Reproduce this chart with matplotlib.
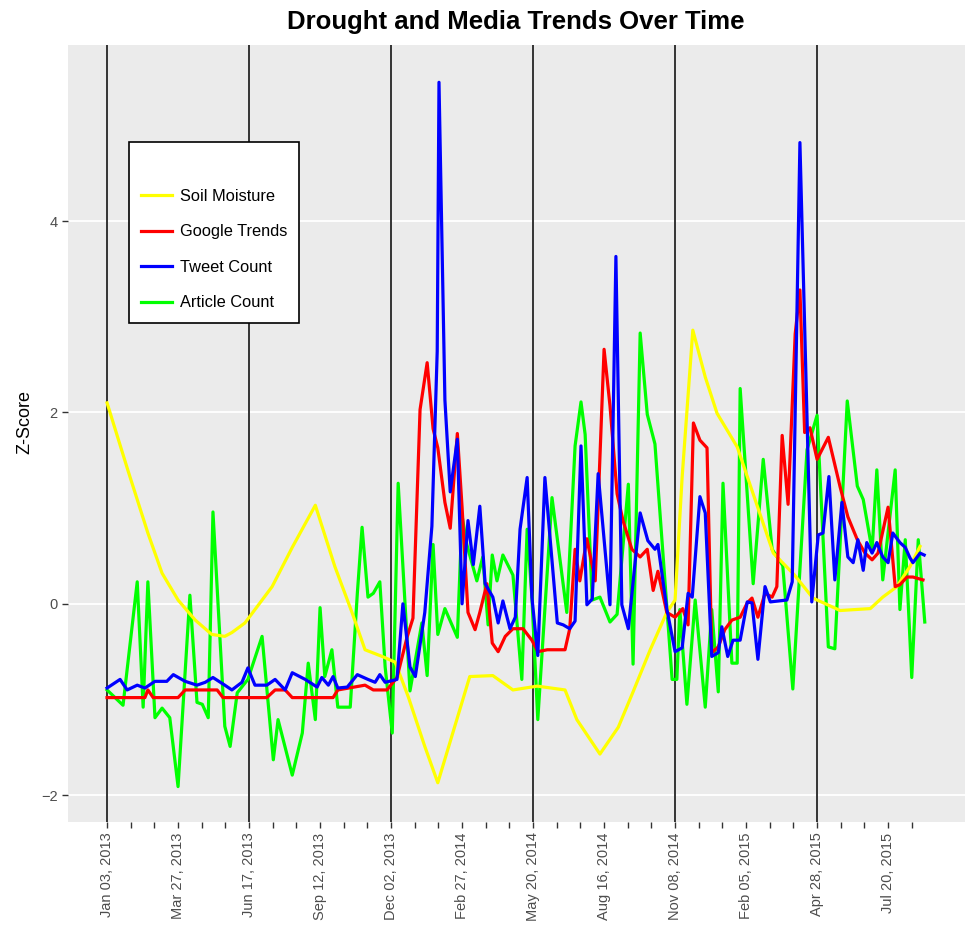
import matplotlib
matplotlib.use('Agg')
import matplotlib.pyplot as plt

# x positions are weeks counted from Jan 03, 2013
soil_wk = [0, 3.5, 6.9, 9.3, 12.0, 14.9, 17.7, 19.9, 21.1, 23.3, 27.9, 31.3, 35.2, 38.5, 41.4,
           43.6, 46.5, 48.7, 50.9, 53.7, 55.9, 61.3, 65.2, 68.6, 72.7, 77.4, 79.4, 83.3, 86.4,
           88.9, 91.8, 94.6, 96.0, 97.2, 99.0, 101.1, 103.1, 106.5, 110.4, 112.6, 116.2, 119.3,
           123.9, 126.4, 129.0, 131.1, 133.5, 135.7, 137.4]
soil_z = [2.10, 1.40, 0.74, 0.32, 0.04, -0.17, -0.32, -0.34, -0.30, -0.20, 0.18, 0.59, 1.03, 0.39,
          -0.09, -0.48, -0.55, -0.61, -0.97, -1.49, -1.87, -0.76, -0.75, -0.90, -0.86, -0.90, -1.21,
          -1.57, -1.29, -0.92, -0.48, -0.09, 0.04, 1.33, 2.86, 2.37, 1.99, 1.64, 0.93, 0.53, 0.30,
          0.06, -0.07, -0.06, -0.05, 0.07, 0.18, 0.39, 0.60]

google_wk = [0, 6.4, 6.9, 7.8, 12.0, 13.2, 18.6, 19.6, 27.0, 28.4, 30.1, 31.3, 38.2, 39.0, 43.6,
             45.0, 47.3, 49.0, 50.7, 51.7, 52.9, 54.1, 55.1, 55.9, 57.1, 58.0, 59.2, 60.0, 61.0,
             62.2, 63.0, 64.2, 65.1, 66.1, 67.3, 68.6, 70.3, 71.8, 72.8, 74.4, 77.4, 78.2, 79.1,
             79.9, 81.1, 82.5, 84.0, 85.0, 86.2, 87.2, 88.7, 90.1, 91.3, 92.3, 93.1, 94.6, 96.0,
             97.3, 98.2, 99.1, 100.2, 101.4, 102.2, 103.3, 104.4, 105.6, 107.0, 108.2, 109.0,
             110.0, 111.2, 112.4, 113.2, 114.1, 115.1, 116.3, 117.1, 117.9, 118.8, 120.0, 121.9,
             123.9, 125.2, 126.8, 128.1, 129.3, 130.3, 132.0, 133.2, 134.0, 135.2, 136.2, 137.9]
google_z = [-0.98, -0.98, -0.90, -0.98, -0.98, -0.90, -0.90, -0.98, -0.98, -0.90, -0.90, -0.98,
            -0.98, -0.90, -0.85, -0.90, -0.90, -0.77, -0.35, -0.15, 2.03, 2.52, 1.83, 1.63, 1.06,
            0.79, 1.78, 1.01, -0.09, -0.27, -0.09, 0.21, -0.41, -0.50, -0.34, -0.26, -0.26, -0.38,
            -0.50, -0.48, -0.48, -0.26, 0.57, 0.24, 0.68, 0.24, 2.66, 2.07, 1.15, 0.87, 0.57, 0.49,
            0.57, 0.14, 0.34, -0.09, -0.14, -0.05, -0.22, 1.89, 1.71, 1.63, -0.51, -0.45, -0.27,
            -0.17, -0.14, 0.01, 0.06, -0.14, 0.11, 0.07, 0.18, 1.76, 1.04, 2.82, 3.28, 1.79, 1.84,
            1.51, 1.74, 1.22, 0.91, 0.67, 0.53, 0.46, 0.53, 1.01, 0.18, 0.20, 0.28, 0.28, 0.25]

tweet_wk = [0, 2.2, 3.4, 5.1, 6.4, 8.1, 10.1, 11.2, 13.2, 15.2, 16.6, 17.9, 19.9, 21.1, 22.8,
            23.8, 25.0, 27.0, 28.4, 30.1, 31.3, 33.5, 35.5, 36.3, 37.4, 38.2, 39.0, 40.6, 42.3,
            44.1, 45.3, 46.1, 47.0, 49.0, 50.0, 51.2, 52.1, 53.7, 54.9, 55.8, 56.1, 57.1, 58.0,
            59.2, 60.0, 61.0, 61.9, 63.0, 63.9, 65.2, 66.1, 66.9, 68.1, 69.0, 69.8, 71.0, 71.8,
            72.8, 74.0, 76.1, 77.1, 78.2, 79.1, 80.1, 81.1, 82.0, 83.0, 85.0, 86.0, 87.0, 88.1,
            90.1, 91.4, 92.6, 93.1, 94.6, 96.0, 97.2, 98.2, 98.9, 100.2, 101.1, 102.2, 103.3,
            103.9, 104.9, 105.8, 107.0, 108.2, 109.0, 110.0, 111.2, 112.1, 114.9, 115.8, 117.1,
            119.1, 120.2, 121.0, 122.0, 123.0, 124.2, 125.2, 126.1, 126.9, 127.8, 128.4, 129.3,
            130.1, 131.1, 132.0, 132.8, 134.0, 134.9, 135.7, 136.2, 137.4, 138.1]
tweet_z = [-0.88, -0.79, -0.90, -0.85, -0.88, -0.81, -0.81, -0.74, -0.81, -0.85, -0.82, -0.77,
           -0.85, -0.90, -0.82, -0.67, -0.85, -0.85, -0.79, -0.90, -0.72, -0.79, -0.87, -0.77,
           -0.85, -0.76, -0.88, -0.87, -0.74, -0.79, -0.82, -0.74, -0.82, -0.79, 0.0, -0.66,
           -0.76, -0.09, 0.81, 2.64, 5.45, 2.13, 1.17, 1.72, 0.0, 0.87, 0.41, 1.02, 0.21, 0.07,
           -0.20, 0.03, -0.26, -0.14, 0.78, 1.32, 0.07, -0.54, 1.32, -0.20, -0.22, -0.26, -0.18,
           1.65, -0.01, 0.05, 1.36, -0.01, 3.63, -0.01, -0.26, 0.95, 0.66, 0.57, 0.62, -0.05,
           -0.50, -0.46, 0.11, 0.07, 1.12, 0.95, -0.55, -0.51, -0.24, -0.55, -0.38, -0.38, 0.02,
           0.01, -0.58, 0.18, 0.02, 0.04, 0.23, 4.82, 0.02, 0.72, 0.74, 1.33, 0.25, 1.06, 0.49,
           0.43, 0.67, 0.35, 0.64, 0.53, 0.64, 0.49, 0.43, 0.74, 0.64, 0.59, 0.48, 0.43, 0.53,
           0.51]

article_wk = [0, 2.7, 5.1, 6.1, 6.9, 8.1, 9.3, 10.6, 12.0, 14.0, 15.2, 16.1, 17.1, 17.9, 19.9,
              20.8, 22.0, 23.8, 26.2, 28.1, 28.9, 31.3, 33.0, 34.0, 35.2, 36.0, 36.8, 38.0, 39.0,
              41.1, 42.3, 43.1, 44.1, 45.0, 46.1, 47.0, 48.2, 49.2, 51.2, 53.2, 54.1, 55.1, 55.9,
              57.1, 59.2, 60.0, 60.8, 62.5, 63.5, 64.4, 65.1, 65.9, 66.9, 68.6, 70.1, 71.0, 71.8,
              72.8, 75.2, 77.7, 79.1, 80.1, 80.8, 82.0, 83.3, 85.0, 86.2, 88.1, 88.9, 90.1, 91.3,
              92.6, 95.5, 96.3, 96.8, 98.0, 99.4, 101.1, 102.2, 103.3, 104.1, 105.6, 106.5, 107.0,
              109.2, 110.9, 112.4, 114.2, 115.9, 118.3, 120.0, 121.9, 123.0, 125.1, 126.8, 127.8,
              129.3, 130.1, 131.1, 133.2, 134.0, 134.9, 136.0, 137.1, 138.2]
article_z = [-0.90, -1.06, 0.23, -1.08, 0.23, -1.19, -1.09, -1.19, -1.91, 0.09, -1.03, -1.05,
             -1.19, 0.96, -1.28, -1.49, -0.93, -0.79, -0.34, -1.63, -1.21, -1.79, -1.35, -0.62,
             -1.21, -0.04, -0.76, -0.48, -1.08, -1.08, 0.11, 0.80, 0.07, 0.11, 0.23, -0.66, -1.35,
             1.26, -0.91, -0.20, -0.75, 0.62, -0.32, -0.05, -0.35, 0.92, 0.62, 0.24, 0.49, -0.22,
             0.51, 0.24, 0.51, 0.30, -0.79, 0.78, 0.07, -1.21, 1.11, -0.09, 1.65, 2.11, 1.77, 0.04,
             0.07, -0.19, -0.11, 1.25, -0.63, 2.83, 1.98, 1.67, -0.79, -0.79, -0.06, -1.05, 0.04,
             -1.08, -0.06, -0.92, 1.26, -0.62, -0.62, 2.25, 0.21, 1.51, 0.57, 0.40, -0.89, 1.61,
             1.97, -0.45, -0.47, 2.12, 1.23, 1.09, 0.56, 1.40, 0.25, 1.40, -0.06, 0.67, -0.77,
             0.67, -0.19]

date_labels = ['Jan 03, 2013', 'Mar 27, 2013', 'Jun 17, 2013', 'Sep 12, 2013', 'Dec 02, 2013',
               'Feb 27, 2014', 'May 20, 2014', 'Aug 16, 2014', 'Nov 08, 2014', 'Feb 05, 2015',
               'Apr 28, 2015', 'Jul 20, 2015']
label_wk = list(range(0, 133, 12))
tick_wk = list(range(0, 137, 4))
marker_wk = [0, 24, 48, 72, 96, 120]

plt.rcParams['font.family'] = ['Liberation Sans', 'DejaVu Sans']

fig = plt.figure(figsize=(9.66, 9.41), dpi=100)
ax = fig.add_axes([68 / 966, 119 / 941, 897 / 966, 777 / 941])
ax.set_facecolor('#EBEBEB')
for s in ax.spines.values():
    s.set_visible(False)

ax.set_ylim(-2.28, 5.84)
ax.set_xlim(-6.6, 145.0)
ax.set_yticks([-2, 0, 2, 4])
ax.yaxis.grid(True, color='white', linewidth=1.3)
ax.set_axisbelow(True)

for w in marker_wk:
    ax.axvline(w, color='#333333', linewidth=1.4, zorder=1)

ax.plot(article_wk, article_z, color='#00FF00', linewidth=2.3, zorder=2, label='Article Count')
ax.plot(soil_wk, soil_z, color='#FFFF00', linewidth=2.3, zorder=3, label='Soil Moisture')
ax.plot(google_wk, google_z, color='#FF0000', linewidth=2.3, zorder=4, label='Google Trends')
ax.plot(tweet_wk, tweet_z, color='#0000FF', linewidth=2.3, zorder=5, label='Tweet Count')

ax.set_xticks(tick_wk)
ax.set_xticklabels([date_labels[label_wk.index(w)] if w in label_wk else '' for w in tick_wk],
                   rotation=90)
ax.tick_params(axis='both', colors='#4D4D4D', labelsize=10.5, length=4, width=1)
ax.tick_params(axis='both', color='#333333')

h, l = ax.get_legend_handles_labels()
order = [1, 2, 3, 0]
leg = ax.legend([h[i] for i in order], [l[i] for i in order], title=' ',
                loc='upper left', bbox_to_anchor=(0.068, 0.875), borderaxespad=0,
                fontsize=11.8, title_fontsize=10, frameon=True, fancybox=False,
                edgecolor='black', facecolor='white', framealpha=1, handlelength=1.9,
                labelspacing=1.25, borderpad=0.75, handletextpad=0.45)
leg.get_frame().set_linewidth(1.2)

fig.text(516 / 966, 1 - 22 / 941, 'Drought and Media Trends Over Time', ha='center', va='center',
         fontsize=18.5, fontweight='bold')
fig.text(25 / 966, 1 - 422 / 941, 'Z-Score', rotation=90, ha='center', va='center', fontsize=13)

fig.savefig('out.png', dpi=100)
